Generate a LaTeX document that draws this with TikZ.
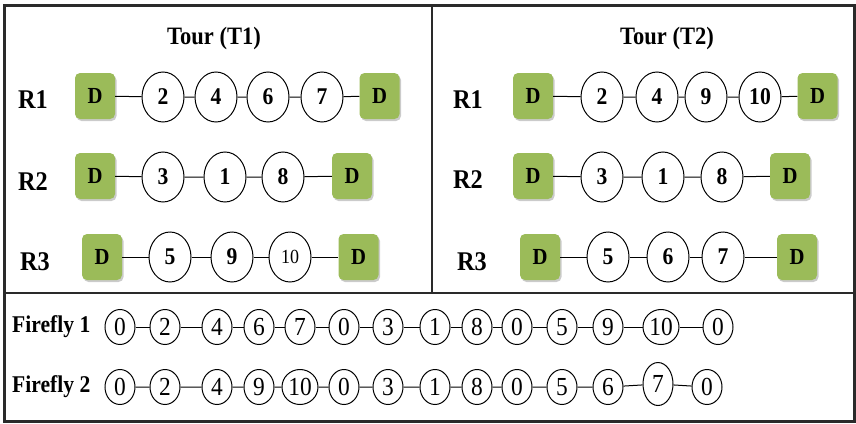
\documentclass[tikz,border=0pt]{standalone}
\usepackage{fontspec}
\setmainfont{Liberation Serif}[FakeStretch=0.9]
\usetikzlibrary{shapes.geometric,shadows}
\definecolor{depotgreen}{HTML}{9BBB59}
\definecolor{framegray}{HTML}{2A2A2A}
\tikzset{
  depot/.style={rectangle, rounded corners=5pt, fill=depotgreen,
    minimum width=40pt, minimum height=46pt, inner sep=0pt,
    font=\bfseries\fontsize{23}{23}\selectfont,
    drop shadow={shadow xshift=1.5pt, shadow yshift=-2pt, fill=black!45, opacity=0.45}},
  cust/.style={ellipse, draw, line width=1pt, fill=white,
    minimum width=42pt, minimum height=50pt, inner sep=0pt,
    font=\bfseries\fontsize{24}{24}\selectfont},
  gene/.style={ellipse, draw, line width=1pt, fill=white,
    minimum width=30pt, minimum height=35pt, inner sep=0pt,
    font=\fontsize{26}{26}\selectfont},
  rowlabel/.style={font=\bfseries\fontsize{27}{27}\selectfont},
  title/.style={font=\bfseries\fontsize{25}{25}\selectfont},
  fflabel/.style={anchor=west, inner sep=0pt, font=\bfseries\fontsize{24}{24}\selectfont},
  link/.style={line width=1pt},
}
\begin{document}
\begin{tikzpicture}[x=1pt,y=-1pt]
\useasboundingbox (0,0) rectangle (856,423);
% frame and dividers
\draw[framegray, line width=3pt] (4.5,5) rectangle (854,421.5);
\draw[framegray, line width=1.6pt] (432,5) -- (432,293);
\draw[framegray, line width=1.6pt] (4.5,293) -- (854,293);

% ---------- Tour T1 ----------
\node[title] (t1) at (214,38) {Tour (T1)};
\node[rowlabel] (t1r1) at (33,100) {R1};
\node[rowlabel] (t1r2) at (33,182) {R2};
\node[rowlabel] (t1r3) at (35,262) {R3};

\node[depot] (a1s) at (95,96) {D};
\node[cust] (a1a) at (163,97) {2};
\node[cust] (a1b) at (216,97) {4};
\node[cust] (a1c) at (268,97) {6};
\node[cust] (a1d) at (322,97) {7};
\node[depot] (a1e) at (379.5,96) {D};
\draw[link] (a1s) -- (a1a) -- (a1b) -- (a1c) -- (a1d) -- (a1e);

\node[depot] (a2s) at (95,176) {D};
\node[cust] (a2a) at (163,177) {3};
\node[cust] (a2b) at (225,177) {1};
\node[cust] (a2c) at (283,177) {8};
\node[depot] (a2e) at (352,176) {D};
\draw[link] (a2s) -- (a2a) -- (a2b) -- (a2c) -- (a2e);

\node[depot] (a3s) at (102,257) {D};
\node[cust] (a3a) at (170,257) {5};
\node[cust] (a3b) at (232,257) {9};
\node[cust, font=\fontsize{20}{20}\selectfont] (a3c) at (290,257) {10};
\node[depot] (a3e) at (358.5,257) {D};
\draw[link] (a3s) -- (a3a) -- (a3b) -- (a3c) -- (a3e);

% ---------- Tour T2 ----------
\node[title] (t2) at (667,38) {Tour (T2)};
\node[rowlabel] (t2r1) at (468,100) {R1};
\node[rowlabel] (t2r2) at (468,180) {R2};
\node[rowlabel] (t2r3) at (472,262) {R3};

\node[depot] (b1s) at (533,96) {D};
\node[cust] (b1a) at (602,97) {2};
\node[cust] (b1b) at (657,97) {4};
\node[cust] (b1c) at (706,97) {9};
\node[cust] (b1d) at (760,97) {10};
\node[depot] (b1e) at (817.5,96) {D};
\draw[link] (b1s) -- (b1a) -- (b1b) -- (b1c) -- (b1d) -- (b1e);

\node[depot] (b2s) at (533,176) {D};
\node[cust] (b2a) at (602,177) {3};
\node[cust] (b2b) at (663,177) {1};
\node[cust] (b2c) at (722,177) {8};
\node[depot] (b2e) at (790,176) {D};
\draw[link] (b2s) -- (b2a) -- (b2b) -- (b2c) -- (b2e);

\node[depot] (b3s) at (540,257) {D};
\node[cust] (b3a) at (608,257) {5};
\node[cust] (b3b) at (668,257) {6};
\node[cust] (b3c) at (723,257) {7};
\node[depot] (b3e) at (797,257) {D};
\draw[link] (b3s) -- (b3a) -- (b3b) -- (b3c) -- (b3e);

% ---------- Firefly encodings ----------
\node[fflabel] (f1) at (12,327) {Firefly 1};
\foreach \n/\x/\v in {1/120/0, 2/165/2, 3/217/4, 4/259/6, 5/300/7, 6/344/0, 7/388/3,
                      8/435/1, 9/477/8, 10/517/0, 11/562/5, 12/608/9, 14/718/0}
  \node[gene] (p\n) at (\x,327) {\v};
\node[gene, minimum width=36pt] (p13) at (661,327) {10};
\draw[link] (p1) -- (p2) -- (p3) -- (p4) -- (p5) -- (p6) -- (p7) -- (p8) -- (p9)
  -- (p10) -- (p11) -- (p12) -- (p13) -- (p14);

\node[fflabel] (f2) at (12,387) {Firefly 2};
\foreach \n/\x/\v in {1/120/0, 2/165/2, 3/217/4, 4/259/9, 6/344/0, 7/388/3,
                      8/435/1, 9/477/8, 10/517/0, 11/562/5, 12/608/6, 14/707/0}
  \node[gene] (q\n) at (\x,387) {\v};
\node[gene, minimum width=36pt] (q5) at (300,387) {10};
\node[gene, minimum height=43pt] (q13) at (658,384) {7};
\draw[link] (q1) -- (q2) -- (q3) -- (q4) -- (q5) -- (q6) -- (q7) -- (q8) -- (q9)
  -- (q10) -- (q11) -- (q12) -- (q13) -- (q14);
\end{tikzpicture}
\end{document}
